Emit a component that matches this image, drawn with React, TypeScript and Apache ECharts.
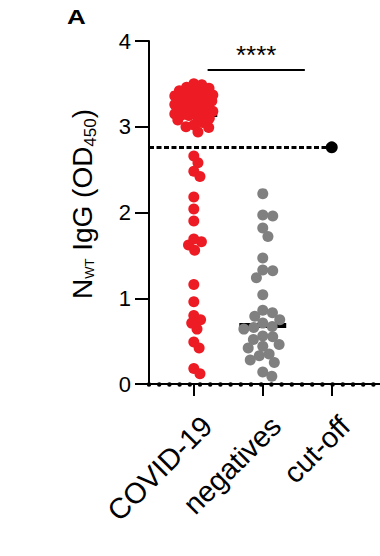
import React, { useEffect, useRef } from "react";
import * as echarts from "echarts";

const categories = ["COVID-19", "negatives", "cut-off"];
const yTicks = [0, 1, 2, 3, 4];
const covidValues = [
  3.5, 3.49, 3.46, 3.45, 3.42, 3.41, 3.4, 3.38, 3.37, 3.36, 3.35, 3.34, 3.34, 3.33, 3.32,
  3.31, 3.3, 3.29, 3.29, 3.28, 3.27, 3.26, 3.25, 3.24, 3.22, 3.21, 3.19, 3.18, 3.16, 3.15,
  3.14, 3.13, 3.12, 3.1, 3.08, 3.05, 3.02, 3.0, 2.99, 2.94,
  2.66, 2.58, 2.48, 2.42, 2.18, 2.04, 1.9, 1.69, 1.66, 1.62, 1.56, 1.16, 0.96, 0.8, 0.75,
  0.71, 0.64, 0.49, 0.42, 0.18, 0.12,
];
const negativeValues = [
  2.22, 1.97, 1.96, 1.82, 1.72, 1.47, 1.33, 1.32, 1.24, 1.04, 0.86, 0.83, 0.79, 0.75, 0.71,
  0.67, 0.66, 0.64, 0.56, 0.55, 0.52, 0.46, 0.44, 0.42, 0.35, 0.33, 0.28, 0.25, 0.14, 0.09,
];
const cutoffValue = 2.76;
const significance = "****";

const W = 380;
const H = 556;
const GRID_LEFT = 149;
const GRID_RIGHT = 0;
const GRID_TOP = 41;
const GRID_BOTTOM = 172;
const X_MIN = 0.35;
const X_MAX = 3.7;
const Y_MIN = 0;
const Y_MAX = 4;
const PX_PER_X = (W - GRID_LEFT - GRID_RIGHT) / (X_MAX - X_MIN);
const PX_PER_Y = (H - GRID_TOP - GRID_BOTTOM) / (Y_MAX - Y_MIN);
const LABEL_SHIFT = 3 / PX_PER_X;
const FONT = "'Liberation Sans', Arial, Helvetica, sans-serif";

function median(vals: number[]): number {
  const s = [...vals].sort((a, b) => a - b);
  const n = s.length;
  return n % 2 ? s[(n - 1) / 2] : (s[n / 2 - 1] + s[n / 2]) / 2;
}

function beeswarm(values: number[], center: number, minDist: number, maxOff: number): number[][] {
  const order = values.map((_, i) => i).sort((a, b) => values[b] - values[a]);
  const placed: { x: number; y: number }[] = [];
  const out: number[][] = new Array(values.length);
  for (const i of order) {
    const y = values[i] * PX_PER_Y;
    const cands = [0];
    for (const p of placed) {
      const dy = Math.abs(p.y - y);
      if (dy < minDist) {
        const dx = Math.sqrt(minDist * minDist - dy * dy);
        cands.push(p.x + dx + 0.01, p.x - dx - 0.01);
      }
    }
    cands.sort((a, b) => Math.abs(a) - Math.abs(b));
    let best: number | null = null;
    for (const c of cands) {
      if (Math.abs(c) > maxOff) continue;
      if (placed.every((p) => Math.hypot(p.x - c, p.y - y) >= minDist - 0.05)) {
        best = c;
        break;
      }
    }
    if (best === null) {
      let bestScore = -1;
      best = 0;
      for (let c = -maxOff; c <= maxOff; c += 0.5) {
        let md = Infinity;
        for (const p of placed) md = Math.min(md, Math.hypot(p.x - c, p.y - y));
        if (md > bestScore) {
          bestScore = md;
          best = c;
        }
      }
    }
    placed.push({ x: best, y });
    out[i] = [center + best / PX_PER_X, values[i]];
  }
  return out;
}

export default function App() {
  const ref = useRef<HTMLDivElement>(null);
  useEffect(() => {
    if (!ref.current) return;
    const chart = echarts.init(ref.current, undefined, { renderer: "svg" });
    const covidMed = median(covidValues);
    const negMed = median(negativeValues);
    const halfBar = 0.34;
    chart.setOption({
      animation: false,
      backgroundColor: "#fff",
      grid: { left: GRID_LEFT, right: GRID_RIGHT, top: GRID_TOP, bottom: GRID_BOTTOM, containLabel: false },
      xAxis: [
        {
          type: "value",
          min: X_MIN,
          max: X_MAX,
          position: "bottom",
          axisLine: { show: true, onZero: false, lineStyle: { color: "#000", width: 2 } },
          axisTick: { show: true, customValues: [1, 2, 3], length: 12, lineStyle: { color: "#000", width: 2 } },
          axisLabel: { show: false },
          splitLine: { show: false },
        },
        {
          type: "value",
          min: X_MIN,
          max: X_MAX,
          position: "bottom",
          axisLine: {
            show: true,
            onZero: false,
            lineStyle: { color: "#000", width: 4.5, type: [0, 10.2], cap: "round" },
          },
          axisTick: { show: false },
          axisLabel: { show: false },
          splitLine: { show: false },
        },
        {
          type: "value",
          min: X_MIN - LABEL_SHIFT,
          max: X_MAX - LABEL_SHIFT,
          position: "bottom",
          axisLine: { show: false, onZero: false },
          axisTick: { show: false },
          axisLabel: {
            show: true,
            customValues: [1, 2, 3],
            formatter: (v: number) => categories[Math.round(v) - 1] || "",
            rotate: 45,
            fontSize: 29,
            fontFamily: FONT,
            color: "#000",
            margin: 27,
            verticalAlign: "top",
          },
          splitLine: { show: false },
        },
      ],
      yAxis: {
        type: "value",
        min: Y_MIN,
        max: Y_MAX,
        interval: 1,
        axisLine: { show: true, lineStyle: { color: "#000", width: 2 } },
        axisTick: { show: true, length: 14, lineStyle: { color: "#000", width: 2 } },
        axisLabel: {
          fontSize: 22,
          fontFamily: FONT,
          color: "#000",
          margin: 18,
          formatter: (v: number) => (yTicks.includes(v) ? String(v) : ""),
        },
        splitLine: { show: false },
      },
      graphic: [
        {
          type: "text",
          x: 76.5,
          y: 17,
          scaleX: 1.3,
          style: {
            text: "{t|A}",
            align: "center",
            verticalAlign: "middle",
            rich: { t: { fontSize: 20, fontWeight: "bold", fontFamily: FONT, fill: "#000" } },
          },
        },
        {
          type: "text",
          x: 82,
          y: 204,
          rotation: Math.PI / 2,
          style: {
            text: "{m|N}{a|WT}{m| IgG (OD}{b|450}{m|)}",
            align: "center",
            verticalAlign: "middle",
            fill: "#000",
            rich: {
              m: { fontSize: 28, fontFamily: FONT, lineHeight: 34, fill: "#000" },
              a: { fontSize: 13, fontFamily: FONT, lineHeight: 13, padding: [14, 0, 0, 0], fill: "#000" },
              b: { fontSize: 17, fontFamily: FONT, lineHeight: 17, padding: [16, 0, 0, 0], fill: "#000" },
            },
          },
        },
      ],
      series: [
        {
          type: "scatter",
          name: "medians",
          data: [],
          silent: true,
          markLine: {
            silent: true,
            z: 1,
            symbol: "none",
            animation: false,
            data: [
              [
                { coord: [1 - halfBar, covidMed], lineStyle: { color: "#000", width: 5, type: "solid" }, label: { show: false } },
                { coord: [1 + halfBar, covidMed] },
              ],
              [
                { coord: [2 - halfBar, negMed], lineStyle: { color: "#000", width: 5, type: "solid" }, label: { show: false } },
                { coord: [2 + halfBar, negMed] },
              ],
              [
                { coord: [X_MIN, cutoffValue], lineStyle: { color: "#000", width: 3, type: [5, 2.5] }, label: { show: false } },
                { coord: [3, cutoffValue] },
              ],
              [
                {
                  coord: [1.2, 3.67],
                  lineStyle: { color: "#000", width: 2, type: "solid" },
                  label: {
                    show: true,
                    position: "middle",
                    formatter: significance,
                    fontSize: 26,
                    fontFamily: FONT,
                    color: "#000",
                    distance: 1,
                  },
                },
                { coord: [2.61, 3.67] },
              ],
            ],
          },
        },
        {
          type: "scatter",
          name: categories[0],
          z: 3,
          symbolSize: 11,
          itemStyle: { color: "#ED1C24", opacity: 1 },
          data: beeswarm(covidValues, 1, 8, 19),
        },
        {
          type: "scatter",
          name: categories[1],
          z: 3,
          symbolSize: 11,
          itemStyle: { color: "#808080", opacity: 1 },
          data: beeswarm(negativeValues, 2, 10, 20),
        },
        {
          type: "scatter",
          name: categories[2],
          z: 4,
          symbolSize: 12,
          itemStyle: { color: "#000", opacity: 1 },
          data: [[3, cutoffValue]],
        },
      ],
    });
    return () => chart.dispose();
  }, []);
  return <div ref={ref} style={{ position: "fixed", left: 0, top: 0, width: W, height: H }} />;
}
